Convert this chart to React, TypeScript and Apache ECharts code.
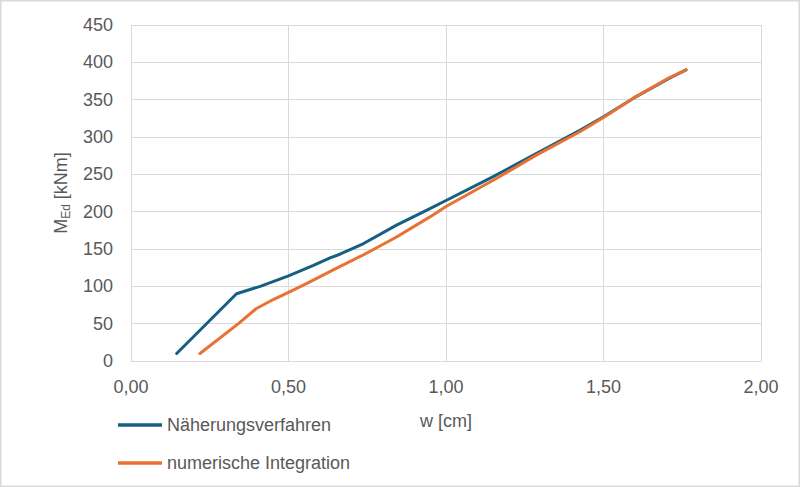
import { useEffect, useRef } from 'react'
import * as echarts from 'echarts'

// w [cm] / M_Ed [kNm]
const naeherungW = [0.145, 0.335, 0.41, 0.5, 0.579, 0.632, 0.663, 0.737, 0.843, 0.949, 1.0, 1.15, 1.288, 1.425, 1.5, 1.595, 1.711, 1.762]
const naeherungM = [10, 90, 100, 114, 128, 138, 143, 157, 182, 204, 215, 247, 278, 309, 327, 352, 379, 390]

const numerischW = [0.219, 0.341, 0.397, 0.45, 0.5, 0.568, 0.642, 0.737, 0.843, 0.949, 1.0, 1.15, 1.288, 1.425, 1.5, 1.595, 1.711, 1.762]
const numerischM = [10, 50, 70, 82, 92, 106, 122, 142, 166, 193, 207, 242, 276, 307, 326, 352, 380, 390]

const seriesNames = ['Näherungsverfahren', 'numerische Integration']
const seriesColors = ['#156082', '#E97132']

const FONT = '"Liberation Sans", Arial, sans-serif'
const TEXT = '#595959'
const GRID = '#d9d9d9'

const pairs = (xs: number[], ys: number[]) => xs.map((x, i) => [x, ys[i]])

export default function App() {
  const ref = useRef<HTMLDivElement>(null)

  useEffect(() => {
    if (!ref.current) return
    const chart = echarts.init(ref.current, undefined, { renderer: 'svg' })

    chart.setOption({
      animation: false,
      backgroundColor: '#fff',
      textStyle: { fontFamily: FONT },
      grid: { left: 131, right: 39, top: 25, bottom: 126 },
      graphic: [
        {
          type: 'rect',
          shape: { x: 0.75, y: 0.75, width: 798.5, height: 485.5 },
          style: { fill: 'none', stroke: GRID, lineWidth: 1.5 },
          silent: true,
        },
      ],
      legend: {
        orient: 'vertical',
        left: 113,
        top: 410,
        icon: 'rect',
        itemWidth: 44,
        itemHeight: 3.5,
        itemGap: 18,
        data: seriesNames,
        textStyle: { color: TEXT, fontSize: 18, fontFamily: FONT, lineHeight: 20 },
      },
      xAxis: {
        type: 'value',
        min: 0,
        max: 2,
        interval: 0.5,
        name: 'w [cm]',
        nameLocation: 'middle',
        nameGap: 51,
        nameTextStyle: { color: TEXT, fontSize: 18, fontFamily: FONT },
        axisLine: { show: true, lineStyle: { color: GRID, width: 1 } },
        axisTick: { show: false },
        axisLabel: {
          color: TEXT,
          fontSize: 18,
          margin: 17,
          formatter: (v: number) => v.toFixed(2).replace('.', ','),
        },
        splitLine: { show: true, lineStyle: { color: GRID, width: 1 } },
      },
      yAxis: {
        type: 'value',
        min: 0,
        max: 450,
        interval: 50,
        name: '{m|M}{sub|Ed}{m| [kNm]}',
        nameLocation: 'middle',
        nameGap: 58,
        nameRotate: 90,
        nameTextStyle: {
          color: TEXT,
          fontFamily: FONT,
          rich: {
            m: { fontSize: 18, color: TEXT, fontFamily: FONT, lineHeight: 22 },
            sub: { fontSize: 12, color: TEXT, fontFamily: FONT, verticalAlign: 'bottom', lineHeight: 22, padding: [8, 0, 0, 0] },
          },
        },
        axisLine: { show: false },
        axisTick: { show: false },
        axisLabel: { color: TEXT, fontSize: 18, margin: 18 },
        splitLine: { show: true, lineStyle: { color: GRID, width: 1 } },
      },
      series: [
        {
          name: seriesNames[0],
          type: 'line',
          data: pairs(naeherungW, naeherungM),
          symbol: 'none',
          color: seriesColors[0],
          lineStyle: { width: 3, color: seriesColors[0], cap: 'round', join: 'round' },
        },
        {
          name: seriesNames[1],
          type: 'line',
          data: pairs(numerischW, numerischM),
          symbol: 'none',
          color: seriesColors[1],
          lineStyle: { width: 3, color: seriesColors[1], cap: 'round', join: 'round' },
        },
      ],
    })

    return () => chart.dispose()
  }, [])

  return (
    <div
      ref={ref}
      style={{ position: 'fixed', left: 0, top: 0, width: 800, height: 487 }}
    />
  )
}
